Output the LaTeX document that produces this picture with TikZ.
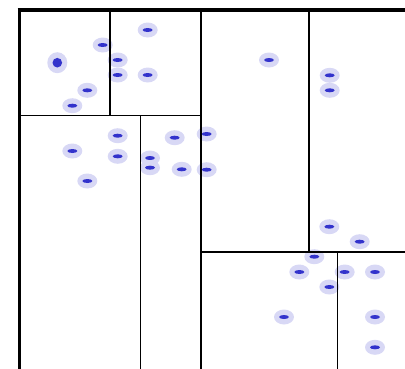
\documentclass[tikz,border=0pt]{standalone}
\definecolor{halo}{RGB}{216,216,245}
\definecolor{core}{RGB}{51,51,204}
\tikzset{
  thickline/.style={line width=#1, black},
  pt/.pic={\fill[halo] (0,0) ellipse [x radius=10, y radius=7.5];
           \fill[core] (0,0) ellipse [x radius=5, y radius=2];},
  bigpt/.pic={\fill[halo] (0,0) ellipse [x radius=10, y radius=10.5];
              \fill[core] (0,0) circle [radius=4.8];}
}
\begin{document}
\begin{tikzpicture}[x=1pt,y=-1pt]
\useasboundingbox (0,0) rectangle (405,368);
\clip (0,0) rectangle (405,368);
% dots
\foreach \px/\py in {147.7/30, 102.7/45, 117.7/60, 117.7/75, 147.7/75, 87.3/90.3, 72.3/105.7,
  117.7/135.7, 72.3/151, 117.7/156.3, 174.7/137.7, 150/158, 150/167.7, 181.7/169.3,
  206.7/134, 206.7/169.7, 87.3/181, 269/60, 329.7/75.3, 329.7/90.3,
  329.3/226.7, 359.7/241.7, 314.3/256.7, 299.3/272, 344.7/272, 375/272, 329.3/287,
  284/317, 375/317, 375/347.3}
  \pic at (\px,\py) {pt};
\pic at (57.3,62.7) {bigpt};
% partition lines
\draw[thickline=1.6pt] (19,115.5) -- (201,115.5);
\draw[thickline=1.6pt] (140.3,115.5) -- (140.3,372);
\draw[thickline=1.6pt] (201.2,10) -- (201.2,372);
\draw[thickline=1.6pt] (308.7,10) -- (308.7,251.7);
\draw[thickline=1.8pt] (201.2,251.7) -- (410,251.7);
\draw[thickline=1.6pt] (337.5,251.7) -- (337.5,372);
\draw[thickline=2.4pt] (110,10) -- (110,115.5);
% outer frame
\draw[thickline=3.4pt] (19.3,8) -- (19.3,372);
\draw[thickline=4pt] (17.6,10) -- (410,10);
\end{tikzpicture}
\end{document}
